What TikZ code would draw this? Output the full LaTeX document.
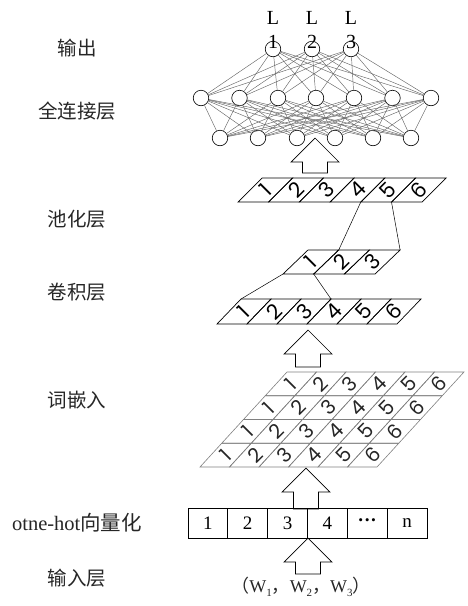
\documentclass[tikz,border=0pt]{standalone}
\usepackage{fontspec}
\setmainfont{Liberation Serif}
\newfontfamily\cjk{Noto Sans CJK SC}
\newfontfamily\dig{Poppins}
\newcommand\hollowup[3]{\draw[arrowline] (#1,#2) -- ++(24,24) -- ++(-11.5,0) -- ++(0,#3) -- ++(-25,0) -- ++(0,-#3) -- ++(-11.5,0) -- cycle;}
\begin{document}
\begin{tikzpicture}[x=1pt,y=-1pt,
  neuron/.style={circle,draw,fill=white,minimum size=15.5pt,inner sep=0pt,line width=0.6pt},
  link/.style={draw=black!60,line width=0.45pt},
  lbl/.style={font=\cjk\fontsize{19.5}{21}\selectfont,text=black!85},
  celltext/.style={font=\dig\fontsize{21}{21}\selectfont,rotate=45,inner sep=0pt},
  gridtext/.style={font=\dig\fontsize{20}{20}\selectfont,rotate=45,inner sep=0pt,text=black!85},
  stripline/.style={draw=black,line width=0.7pt},
  gridline/.style={draw=black!50,line width=0.6pt},
  arrowline/.style={draw=black,line width=0.7pt},
  thin link/.style={draw=black,line width=0.5pt},
  boxcell/.style={draw,line width=0.7pt,minimum width=39.83pt,minimum height=30pt,inner sep=0pt,font=\fontsize{19}{19}\selectfont},
  numtext/.style={font=\fontsize{20}{20}\selectfont,inner sep=0pt}
]
\useasboundingbox (0,0) rectangle (468,606);

% ---------------- left labels
\node[lbl] (t1) at (77,48) {输出};
\node[lbl] (t2) at (77,111) {全连接层};
\node[lbl] (t3) at (77,219) {池化层};
\node[lbl] (t4) at (77,292) {卷积层};
\node[lbl] (t5) at (77,400) {词嵌入};
\node[font=\fontsize{20.5}{21}\selectfont,text=black!85] (t6) at (77,523) {otne-hot{\cjk 向量化}};
\node[lbl] (t7) at (77,578) {输入层};

% ---------------- neural network
\foreach \x [count=\i] in {273,312,351} \node[neuron] (o\i) at (\x,49) {};
\foreach \x [count=\i] in {201,239.5,278,316,354,392.5,431} \node[neuron] (m\i) at (\x,98) {};
\foreach \x [count=\i] in {220,258,297,335,373,411} \node[neuron] (b\i) at (\x,138) {};
\foreach \i in {1,2,3} \foreach \j in {1,...,7} \draw[link] (o\i) -- (m\j);
\foreach \i in {1,...,7} \foreach \j in {1,...,6} \draw[link] (m\i) -- (b\j);
\foreach \x [count=\i] in {273,312,351} {
  \node[numtext] (L\i) at (\x,18) {L};
  \node[numtext] (n\i) at (\x,42) {\i};
}

% ---------------- arrow 1
\hollowup{315}{138}{11}

% ---------------- pooling strip
\foreach \i in {0,...,5} {
  \pgfmathtruncatemacro\n{\i+1}
  \draw[stripline] ({262+\i*30.7},178) -- ++(30.7,0) -- ++(-24,24) -- ++(-30.7,0) -- cycle;
  \node[celltext] (pc\n) at ({262+(\i+0.5)*30.7-12},190) {\n};
}
\coordinate (p45) at (360.8,202);
\coordinate (p56) at (391.5,202);

% ---------------- small conv strip
\foreach \i in {0,...,2} {
  \pgfmathtruncatemacro\n{\i+1}
  \draw[stripline] ({308+\i*30.7},250) -- ++(30.7,0) -- ++(-25,24) -- ++(-30.7,0) -- cycle;
  \node[celltext] (cc\n) at ({308+(\i+0.5)*30.7-12.5},262) {\n};
}
\coordinate (c12t) at (338.7,250);
\coordinate (c3tr) at (400.1,250);
\coordinate (c1bl) at (283,274);
\coordinate (c12b) at (313.7,274);
\draw[thin link] (p45) -- (c12t);
\draw[thin link] (p56) -- (c3tr);

% ---------------- conv strip
\foreach \i in {0,...,5} {
  \pgfmathtruncatemacro\n{\i+1}
  \draw[stripline] ({241+\i*30},299) -- ++(30,0) -- ++(-24,25) -- ++(-30,0) -- cycle;
  \node[celltext] (kc\n) at ({241+(\i+0.5)*30-12},311.5) {\n};
}
\coordinate (k1tl) at (241,299);
\coordinate (k34t) at (331,299);
\draw[thin link] (c1bl) -- (k1tl);
\draw[thin link] (c12b) -- (k34t);

% ---------------- arrow 2
\hollowup{308}{330}{13}

% ---------------- embedding grid
\foreach \r in {0,...,3} \foreach \c in {0,...,5} {
  \pgfmathtruncatemacro\n{\c+1}
  \draw[gridline] ({287-\r*21.75+\c*29.5},{372+\r*23.75}) -- ++(29.5,0) -- ++(-21.75,23.75) -- ++(-29.5,0) -- cycle;
  \node[gridtext] (e\r\c) at ({287-\r*21.75+\c*29.5+14.75-10.9},{372+\r*23.75+11.9}) {\n};
}

% ---------------- arrow 3
\hollowup{306}{468}{17}

% ---------------- one-hot boxes
\foreach \t [count=\i] in {1,2,3,4,\textbf{···},n} {
  \node[boxcell] (h\i) at ({188+(\i-0.5)*39.83},523) {\t};
}

% ---------------- arrow 4
\hollowup{308}{538}{12}

% ---------------- input words
\node[font=\fontsize{18}{18}\selectfont,text=black!85] (w) at (301,587)
  {{\cjk （}W\raisebox{-0.45ex}{\fontsize{11}{11}\selectfont 1}{\cjk ，}W\raisebox{-0.45ex}{\fontsize{11}{11}\selectfont 2}{\cjk ，}W\raisebox{-0.45ex}{\fontsize{11}{11}\selectfont 3}{\cjk ）}};
\end{tikzpicture}
\end{document}
